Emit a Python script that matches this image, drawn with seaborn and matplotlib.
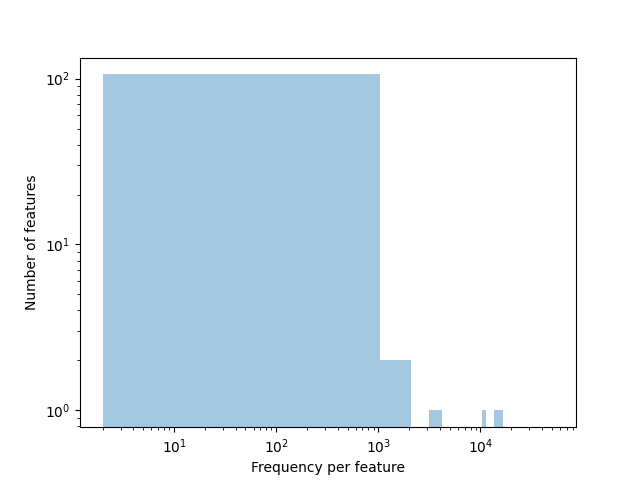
import pandas as pd
import matplotlib
matplotlib.use('Agg')
import matplotlib.pyplot as plt
import seaborn as sns

# frequency per feature (one representative value per occupied bin) and how many features
freq_values = [500, 1500, 3600, 10900, 14000, 15100, 16100]
n_features = [107, 2, 1, 1, 1, 1, 1]
freq_min, freq_max = 2, 52000

df = pd.DataFrame({'freq': freq_values, 'count': n_features})

fig, ax = plt.subplots(figsize=(6.4, 4.8), dpi=100)
sns.histplot(data=df, x='freq', weights='count', bins=50, binrange=(freq_min, freq_max),
             color='#1f77b4', alpha=0.4, linewidth=0, ax=ax)
ax.set_xscale('log')
ax.set_yscale('log')
ax.set_xlim(1.2, 86300)
ax.set_ylim(0.79, 134)
ax.set_xlabel('Frequency per feature')
ax.set_ylabel('Number of features')
fig.savefig('out.png')
